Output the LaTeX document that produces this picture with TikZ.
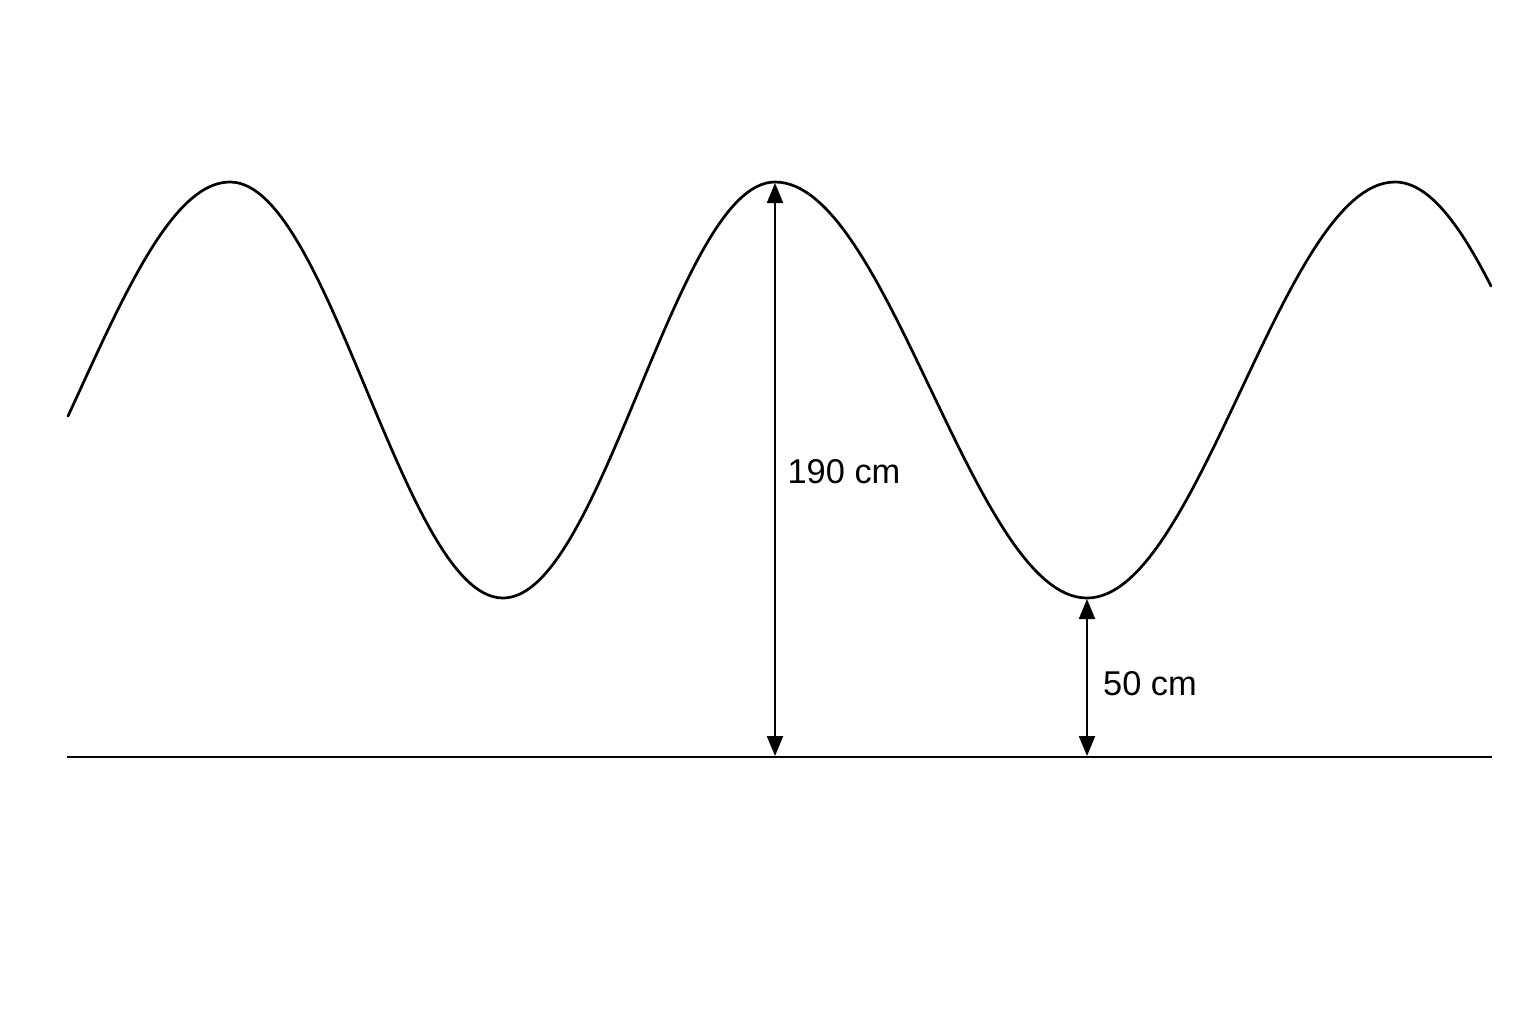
\documentclass[tikz,border=0pt]{standalone}
\usepackage{fontspec}
\setmainfont{Liberation Sans}
\usetikzlibrary{arrows.meta}
\begin{document}
\begin{tikzpicture}[x=0.5pt,y=-0.5pt,
  wave/.style={line width=1.35pt,line join=round,line cap=round},
  ground/.style={line width=1.2pt},
  dim/.style={line width=1.1pt,{Triangle[length=10pt,width=8pt]}-{Triangle[length=10pt,width=8pt]}},
  lbl/.style={font=\fontsize{17.2}{20}\selectfont,inner sep=0pt}]
\useasboundingbox (0,0) rectangle (1536,1024);
% wave
\draw[wave] plot[domain=68:230,samples=40] (\x,{390-208*cos(((\x-230)/300)*180)})
  -- plot[domain=230:503,samples=60] (\x,{390-208*cos(((\x-230)/273)*180)})
  -- plot[domain=503:775,samples=60] (\x,{390+208*cos(((\x-503)/272)*180)})
  -- plot[domain=775:1087,samples=60] (\x,{390-208*cos(((\x-775)/312)*180)})
  -- plot[domain=1087:1395,samples=60] (\x,{390+208*cos(((\x-1087)/308)*180)})
  -- plot[domain=1395:1491,samples=30] (\x,{390-208*cos(((\x-1395)/288)*180)});
% ground line
\coordinate (gl) at (67,757);
\coordinate (gr) at (1492,757);
\draw[ground] (gl) -- (gr);
% dimension points
\coordinate (peak) at (775,183);
\coordinate (base1) at (775,756);
\coordinate (trough) at (1087,599);
\coordinate (base2) at (1087,756);
\draw[dim] (peak) -- (base1);
\draw[dim] (trough) -- (base2);
\node[lbl] (l190) at (844,472) {190 cm};
\node[lbl] (l50) at (1150,684) {50 cm};
\end{tikzpicture}
\end{document}
